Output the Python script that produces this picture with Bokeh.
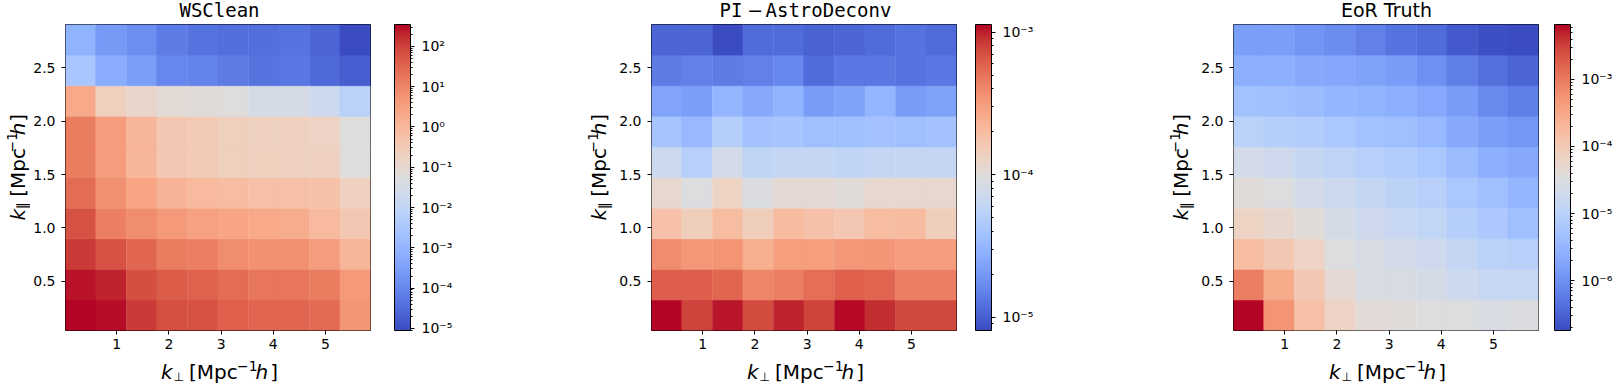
import numpy as np
from bokeh.plotting import figure
from bokeh.models import (ColumnDataSource, LogColorMapper, ColorBar, FixedTicker,
                          Range1d, Label, PrintfTickFormatter, CustomJSTickFormatter)
from bokeh.layouts import row, column
from bokeh.embed import file_html
from bokeh.resources import INLINE

# ---------------- data ----------------
titles = ["WSClean", "PI \u2212 AstroDeconv", "EoR Truth"]
k_perp = [0.31, 0.89, 1.48, 2.06, 2.65, 3.23, 3.82, 4.40, 4.99, 5.57]      # bin centres
k_par = [0.184, 0.470, 0.756, 1.042, 1.329, 1.615, 1.901, 2.187, 2.474, 2.760]
x_ticks = [1, 2, 3, 4, 5]
y_ticks = [0.5, 1.0, 1.5, 2.0, 2.5]

# rows follow k_par (bottom -> top), columns follow k_perp
wsclean = [
    [347, 291, 122, 66, 60, 39, 33, 30, 27.5, 5.2],
    [280, 205, 72, 43, 36, 25, 17.8, 17.8, 15, 4.4],
    [122, 60, 30, 15, 12.5, 7.4, 6.2, 6.2, 3.7, 1.08],
    [60, 12.5, 7.4, 4.4, 3.1, 2.6, 2.2, 1.83, 0.91, 0.38],
    [25, 6.2, 2.6, 1.29, 0.91, 0.77, 0.64, 0.64, 0.54, 0.19],
    [15, 3.7, 1.08, 0.38, 0.32, 0.225, 0.225, 0.19, 0.19, 0.056],
    [15, 3.7, 1.08, 0.38, 0.32, 0.225, 0.19, 0.19, 0.16, 0.056],
    [2.2, 0.225, 0.133, 0.079, 0.066, 0.056, 0.033, 0.033, 0.0195, 0.0068],
    [2.85e-3, 5.9e-4, 2.9e-4, 1.03e-4, 8.6e-5, 6.1e-5, 4.3e-5, 5.1e-5, 3.0e-5, 1.8e-5],
    [8.4e-4, 2.5e-4, 1.46e-4, 6.1e-5, 4.3e-5, 3.6e-5, 3.6e-5, 4.3e-5, 2.5e-5, 8.9e-6],
]
astrodeconv = [
    [1.13e-3, 7.9e-4, 1.04e-3, 7.3e-4, 9.8e-4, 7.7e-4, 1.1e-3, 9.2e-4, 7.5e-4, 7.5e-4],
    [6.1e-4, 6.1e-4, 5.7e-4, 4.1e-4, 4.45e-4, 5.3e-4, 6.0e-4, 5.7e-4, 4.45e-4, 4.45e-4],
    [3.9e-4, 3.4e-4, 3.55e-4, 2.5e-4, 3.05e-4, 3.05e-4, 3.4e-4, 3.45e-4, 3.15e-4, 3.15e-4],
    [1.86e-4, 1.46e-4, 2.0e-4, 1.46e-4, 2.06e-4, 1.82e-4, 1.65e-4, 2.0e-4, 2.06e-4, 1.46e-4],
    [1.14e-4, 9.3e-5, 1.32e-4, 9.1e-5, 1.1e-4, 1.1e-4, 1.0e-4, 1.14e-4, 1.14e-4, 1.14e-4],
    [6.9e-5, 5.25e-5, 8.0e-5, 5.9e-5, 6.25e-5, 6.25e-5, 5.9e-5, 6.25e-5, 6.25e-5, 6.25e-5],
    [4.0e-5, 3.3e-5, 5.0e-5, 3.8e-5, 4.0e-5, 3.6e-5, 3.6e-5, 3.8e-5, 3.6e-5, 3.8e-5],
    [2.4e-5, 2.2e-5, 3.1e-5, 2.56e-5, 2.97e-5, 2.1e-5, 2.3e-5, 3.1e-5, 2.1e-5, 2.3e-5],
    [1.41e-5, 1.48e-5, 1.41e-5, 1.48e-5, 1.64e-5, 1.16e-5, 1.34e-5, 1.34e-5, 1.28e-5, 1.34e-5],
    [1.1e-5, 1.1e-5, 8.1e-6, 1.16e-5, 1.16e-5, 1.05e-5, 1.1e-5, 1.16e-5, 1.28e-5, 1.16e-5],
]
eor_truth = [
    [6.6e-3, 5.5e-4, 1.48e-4, 6.4e-5, 4.2e-5, 3.8e-5, 3.4e-5, 3.4e-5, 2.9e-5, 3.1e-5],
    [9.35e-4, 2.94e-4, 1.08e-4, 4.65e-5, 2.9e-5, 2.9e-5, 2.47e-5, 1.8e-5, 1.54e-5, 1.54e-5],
    [1.65e-4, 1.08e-4, 6.4e-5, 3.4e-5, 2.6e-5, 2.35e-5, 1.9e-5, 1.38e-5, 1.0e-5, 9.1e-6],
    [6.7e-5, 5.2e-5, 4.0e-5, 2.47e-5, 1.9e-5, 1.54e-5, 1.25e-5, 8.2e-6, 6.3e-6, 4.35e-6],
    [4.0e-5, 3.2e-5, 2.35e-5, 1.8e-5, 1.38e-5, 1.12e-5, 9.1e-6, 5.95e-6, 4.35e-6, 3.17e-6],
    [2.35e-5, 1.9e-5, 1.38e-5, 1.18e-5, 9.1e-6, 7.8e-6, 5.95e-6, 3.9e-6, 2.56e-6, 2.08e-6],
    [1.0e-5, 8.2e-6, 7.8e-6, 5.95e-6, 4.8e-6, 4.35e-6, 3.5e-6, 2.08e-6, 1.52e-6, 1.23e-6],
    [4.8e-6, 4.35e-6, 3.9e-6, 3.17e-6, 2.85e-6, 2.56e-6, 1.97e-6, 1.36e-6, 8.5e-7, 6.2e-7],
    [2.3e-6, 2.56e-6, 2.08e-6, 1.87e-6, 1.68e-6, 1.36e-6, 9.95e-7, 6.2e-7, 4.3e-7, 3.3e-7],
    [1.52e-6, 1.52e-6, 1.1e-6, 8.95e-7, 6.5e-7, 4.75e-7, 3.85e-7, 2.5e-7, 2.0e-7, 1.8e-7],
]
cbar_major_exps = [list(range(-5, 3)), [-5, -4, -3], [-6, -5, -4, -3]]

# ---------------- styling ----------------
COOLWARM = [(59, 76, 192), (68, 90, 204), (77, 104, 215), (87, 117, 225), (98, 130, 234),
            (108, 142, 241), (119, 154, 247), (130, 165, 251), (141, 176, 254), (152, 185, 255),
            (163, 194, 255), (174, 201, 253), (184, 208, 249), (194, 213, 244), (204, 217, 238),
            (213, 219, 230), (221, 221, 221), (229, 216, 209), (236, 211, 197), (241, 204, 184),
            (245, 196, 172), (247, 187, 159), (247, 177, 147), (247, 166, 134), (244, 154, 123),
            (241, 141, 111), (236, 127, 99), (229, 112, 88), (222, 96, 77), (213, 80, 66),
            (203, 62, 56), (192, 40, 47), (180, 4, 38)]


def make_palette(n=256):
    a = np.array(COOLWARM, float)
    pos = np.linspace(0, 1, len(a))
    out = []
    for t in np.linspace(0, 1, n):
        c = [int(round(np.interp(t, pos, a[:, k]))) for k in range(3)]
        out.append("#%02x%02x%02x" % tuple(c))
    return out


PAL = make_palette()
SUP_JS = """
const sup = {"-": "\u207b", "0": "\u2070", "1": "\u00b9", "2": "\u00b2", "3": "\u00b3",
             "4": "\u2074", "5": "\u2075", "6": "\u2076", "7": "\u2077", "8": "\u2078", "9": "\u2079"};
const e = Math.round(Math.log10(tick));
return "10" + String(e).split("").map(c => sup[c]).join("");
"""

# layout (pixels)
TITLE_H = 23
FRAME = 306
TOP = 1
BOTTOM = 25
ROW_H = TOP + FRAME + BOTTOM
XLAB_H = 386 - TITLE_H - ROW_H
AX_LEFT = 34
MAIN_W = AX_LEFT + FRAME + 1
ylab_w = [30, 161, 162]
cb_w = [84, 79, 76]
cb_gap = [24, 19, 18]
ylab_base = [21, 147.5, 148.5]        # wanted baseline x of the rotated y label (strip px)
UNROT_SHIFT = 0.26                     # empirical: alphabetic baseline lands this many em lower
ROT_SHIFT = 0.19                       # empirical: rotated baseline lands this many em to the right

dx = (k_perp[-1] - k_perp[0]) / (len(k_perp) - 1)
dy = (k_par[-1] - k_par[0]) / (len(k_par) - 1)
X0, X1 = k_perp[0] - dx / 2, k_perp[-1] + dx / 2
Y0, Y1 = k_par[0] - dy / 2, k_par[-1] + dy / 2


def strip(w, h):
    s = figure(width=w, height=h, x_range=Range1d(0, w), y_range=Range1d(0, h),
               x_axis_type=None, y_axis_type=None, toolbar_location=None,
               output_backend="svg", min_border=0)
    s.outline_line_color = None
    s.background_fill_color = "white"
    s.border_fill_color = "white"
    return s


def add_text(p, x, y, txt, font, size, style="normal", angle=0.0, align="left"):
    lab = Label(x=x, y=y, text=txt, angle=angle)
    lab.text_font = font
    lab.text_font_size = "%.1fpx" % size
    lab.text_font_style = style
    lab.text_align = align
    lab.text_baseline = "alphabetic"
    lab.text_color = "black"
    p.add_layout(lab)


def text_at_baseline(p, h, x, base_top, txt, font, size, style="normal", align="left"):
    """place unrotated text so that its baseline is base_top px below the strip top"""
    y = h - (base_top - UNROT_SHIFT * size)
    add_text(p, x, y, txt, font, size, style, align=align)


def composite_label(p, h, sub, sub_w, c_along, base, vertical):
    S, s = 20, 14
    pieces = [("k", S, "italic", 0, 12.3), (sub, 12 if sub == "\u22a5" else s, "normal", -3.5, sub_w),
              ("[Mpc", S, "normal", 0, 48.0), ("\u22121", s, "normal", 7, 18.7),
              ("h", S, "italic", 0, 14.7), ("]", S, "normal", 0, 7.6)]
    total = sum(pc[4] for pc in pieces)
    cum = -total / 2
    for txt, size, style, shift, w in pieces:
        if vertical:
            bx = base - shift                       # wanted baseline x
            add_text(p, bx - ROT_SHIFT * size, c_along + cum, txt, "DejaVu Sans", size, style,
                     angle=np.pi / 2)
        else:
            text_at_baseline(p, h, c_along + cum, base - shift, txt, "DejaVu Sans", size, style)
        cum += w


def main_panel(vals):
    v = np.array(vals, float)
    XX, YY = np.meshgrid(k_perp, k_par)
    src = ColumnDataSource(dict(x=XX.ravel(), y=YY.ravel(), v=v.ravel()))
    mapper = LogColorMapper(palette=PAL, low=v.min(), high=v.max())
    p = figure(width=MAIN_W, height=ROW_H, x_range=Range1d(X0, X1), y_range=Range1d(Y0, Y1),
               output_backend="svg", toolbar_location=None,
               min_border_left=AX_LEFT, min_border_right=1,
               min_border_top=TOP, min_border_bottom=BOTTOM)
    p.rect(x="x", y="y", width=dx, height=dy, source=src,
           fill_color={"field": "v", "transform": mapper},
           line_color={"field": "v", "transform": mapper}, line_width=0.6)
    p.grid.visible = False
    p.outline_line_color = "black"
    p.outline_line_width = 1
    p.outline_line_alpha = 1
    p.background_fill_color = "white"
    p.border_fill_color = "white"
    p.xaxis.ticker = FixedTicker(ticks=x_ticks)
    p.xaxis.formatter = PrintfTickFormatter(format="%d")
    p.yaxis.ticker = FixedTicker(ticks=y_ticks)
    p.yaxis.formatter = PrintfTickFormatter(format="%.1f")
    for ax in (p.xaxis, p.yaxis):
        ax.major_tick_in = 0
        ax.major_tick_out = 4
        ax.minor_tick_in = 0
        ax.minor_tick_out = 0
        ax.axis_line_color = None
        ax.major_tick_line_color = "black"
        ax.major_label_text_font = "DejaVu Sans"
        ax.major_label_text_font_size = "14px"
        ax.major_label_text_color = "black"
    p.xaxis.major_label_standoff = 4
    p.yaxis.major_label_standoff = 6
    return p, mapper, v


def cbar_panel(mapper, v, exps, w, gap):
    c = figure(width=w, height=ROW_H, x_range=Range1d(0, 1), y_range=Range1d(0, 1),
               x_axis_type=None, y_axis_type=None, toolbar_location=None,
               output_backend="svg", min_border_left=0, min_border_right=w - gap,
               min_border_top=TOP, min_border_bottom=BOTTOM)
    c.outline_line_color = None
    c.background_fill_color = "white"
    c.border_fill_color = "white"
    lo, hi = v.min(), v.max()
    majors = [10.0 ** e for e in exps]
    minors = [m * 10.0 ** e for e in range(exps[0] - 2, exps[-1] + 2) for m in range(2, 10)
              if lo <= m * 10.0 ** e <= hi]
    cb = ColorBar(color_mapper=mapper, ticker=FixedTicker(ticks=majors, minor_ticks=minors),
                  formatter=CustomJSTickFormatter(code=SUP_JS), width=16, padding=0, margin=0,
                  bar_line_color="black", bar_line_width=1,
                  major_tick_out=4, major_tick_in=0, major_tick_line_color="black",
                  minor_tick_out=2, minor_tick_in=0, minor_tick_line_color="black",
                  major_label_text_font="DejaVu Sans", major_label_text_font_size="14px",
                  major_label_text_color="black", label_standoff=7,
                  background_fill_alpha=0, border_line_color=None)
    c.add_layout(cb, "right")
    return c


panels = []
frame_centres = []
x_cursor = 0
ylab_centre = ROW_H - (178.3 - TITLE_H)     # along-text centre of the y label (strip data units)
for i, vals in enumerate([wsclean, astrodeconv, eor_truth]):
    yl = strip(ylab_w[i], ROW_H)
    composite_label(yl, ROW_H, "\u2225", 13.5, ylab_centre, ylab_base[i], True)
    p, mapper, v = main_panel(vals)
    cbf = cbar_panel(mapper, v, cbar_major_exps[i], cb_w[i], cb_gap[i])
    x_cursor += ylab_w[i]
    frame_centres.append(x_cursor + AX_LEFT + FRAME / 2)
    x_cursor += MAIN_W + cb_w[i]
    panels += [yl, p, cbf]

total_w = x_cursor
title_strip = strip(total_w, TITLE_H)
xlab_strip = strip(total_w, XLAB_H)
TITLE_BASE = 14.5
XLAB_BASE = 376.5 - TITLE_H - ROW_H
# WSClean
text_at_baseline(title_strip, TITLE_H, frame_centres[0] + 2, TITLE_BASE, titles[0],
                 "DejaVu Sans Mono", 19, align="center")
# PI - AstroDeconv  (mono text with a maths minus between the two words)
pi_part, _, astro_part = titles[1].partition(" \u2212 ")
text_at_baseline(title_strip, TITLE_H, frame_centres[1] - 84, TITLE_BASE, pi_part,
                 "DejaVu Sans Mono", 19)
text_at_baseline(title_strip, TITLE_H, frame_centres[1] - 56.3, TITLE_BASE, "\u2212",
                 "DejaVu Sans", 19)
text_at_baseline(title_strip, TITLE_H, frame_centres[1] - 38, TITLE_BASE, astro_part,
                 "DejaVu Sans Mono", 19)
# EoR Truth
text_at_baseline(title_strip, TITLE_H, frame_centres[2] + 1, TITLE_BASE, titles[2],
                 "DejaVu Sans", 19, align="center")
for cx in frame_centres:
    composite_label(xlab_strip, XLAB_H, "\u22a5", 15.5, cx + 2, XLAB_BASE, False)

layout = column(title_strip, row(*panels), xlab_strip)
open("out.html", "w").write(file_html(layout, INLINE))
